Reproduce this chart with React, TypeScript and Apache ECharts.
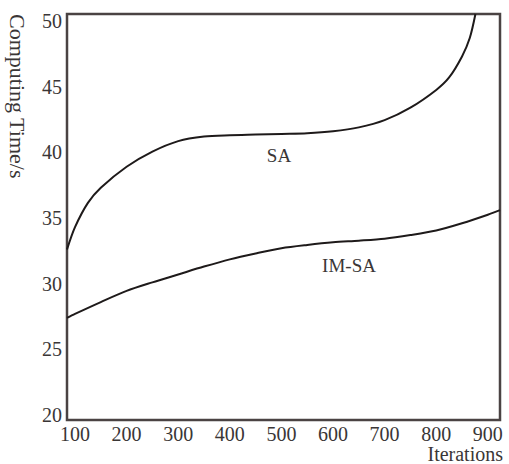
import React, { useEffect, useRef } from "react";
import * as echarts from "echarts";

// Iterations (x) and computing time in seconds (y)
const saIterations = [84.5, 100, 125, 150, 200, 250, 300, 350, 400, 450, 500, 550, 600, 650, 700, 750, 800, 825, 850, 865, 876];
const saTimes = [32.6, 34.3, 36.15, 37.3, 38.9, 40.05, 40.85, 41.2, 41.3, 41.35, 41.4, 41.45, 41.6, 41.9, 42.45, 43.4, 44.75, 45.7, 47.3, 48.7, 50.53];

const imIterations = [84.5, 100, 150, 200, 250, 300, 350, 400, 450, 500, 550, 600, 650, 700, 750, 800, 850, 900, 923.6];
const imTimes = [27.4, 27.7, 28.6, 29.45, 30.1, 30.7, 31.3, 31.85, 32.3, 32.7, 32.95, 33.15, 33.27, 33.42, 33.7, 34.05, 34.6, 35.25, 35.6];

const xTicks = [100, 200, 300, 400, 500, 600, 700, 800, 900];
const yTicks = [20, 25, 30, 35, 40, 45, 50];

const FONT = "'Liberation Serif', 'DejaVu Serif', serif";
const TEXT = "#3a3636";

export default function App() {
  const ref = useRef<HTMLDivElement>(null);
  useEffect(() => {
    if (!ref.current) return;
    const chart = echarts.init(ref.current, undefined, { renderer: "svg" });
    const sa = saIterations.map((x, i) => [x, saTimes[i]]);
    const im = imIterations.map((x, i) => [x, imTimes[i]]);
    chart.setOption({
      animation: false,
      backgroundColor: "#ffffff",
      grid: {
        left: 67,
        right: 9,
        top: 14,
        bottom: 44,
        show: true,
        borderColor: "#4a4343",
        borderWidth: 2.5,
        containLabel: false,
        outerBoundsMode: "none",
      },
      xAxis: {
        type: "value",
        min: 84.5,
        max: 923.6,
        splitLine: { show: false },
        axisTick: { show: false },
        axisLine: { show: false },
        axisLabel: {
          customValues: xTicks,
          margin: 6,
          fontFamily: FONT,
          fontSize: 20,
          lineHeight: 16,
          color: TEXT,
        },
      },
      yAxis: {
        type: "value",
        min: 19.62,
        max: 50.53,
        splitLine: { show: false },
        axisTick: { show: false },
        axisLine: { show: false },
        axisLabel: {
          customValues: yTicks,
          margin: 5,
          fontFamily: FONT,
          fontSize: 20,
          color: TEXT,
        },
      },
      series: [
        {
          name: "SA",
          type: "line",
          data: sa,
          smooth: 0.3,
          showSymbol: false,
          clip: true,
          lineStyle: { color: "#1e1a1a", width: 2 },
        },
        {
          name: "IM-SA",
          type: "line",
          data: im,
          smooth: 0.3,
          showSymbol: false,
          clip: true,
          lineStyle: { color: "#1e1a1a", width: 2 },
        },
      ],
      graphic: [
        {
          type: "text",
          x: 17,
          y: 14,
          rotation: -Math.PI / 2,
          style: {
            text: "Computing Time/s",
            font: `22px ${FONT}`,
            fill: TEXT,
            textAlign: "left",
            textVerticalAlign: "middle",
          },
        },
        {
          type: "text",
          x: 503,
          y: 454,
          style: {
            text: "Iterations",
            font: `20px ${FONT}`,
            lineHeight: 16,
            fill: TEXT,
            textAlign: "right",
            textVerticalAlign: "middle",
          },
        },
        {
          type: "text",
          x: 279,
          y: 155,
          style: {
            text: "SA",
            font: `19px ${FONT}`,
            fill: TEXT,
            textAlign: "center",
            textVerticalAlign: "middle",
          },
        },
        {
          type: "text",
          x: 349,
          y: 265,
          style: {
            text: "IM-SA",
            font: `19px ${FONT}`,
            fill: TEXT,
            textAlign: "center",
            textVerticalAlign: "middle",
          },
        },
      ],
    });
    return () => chart.dispose();
  }, []);
  return (
    <div
      ref={ref}
      style={{ position: "fixed", left: 0, top: 0, width: 509, height: 464, background: "#fff" }}
    />
  );
}
